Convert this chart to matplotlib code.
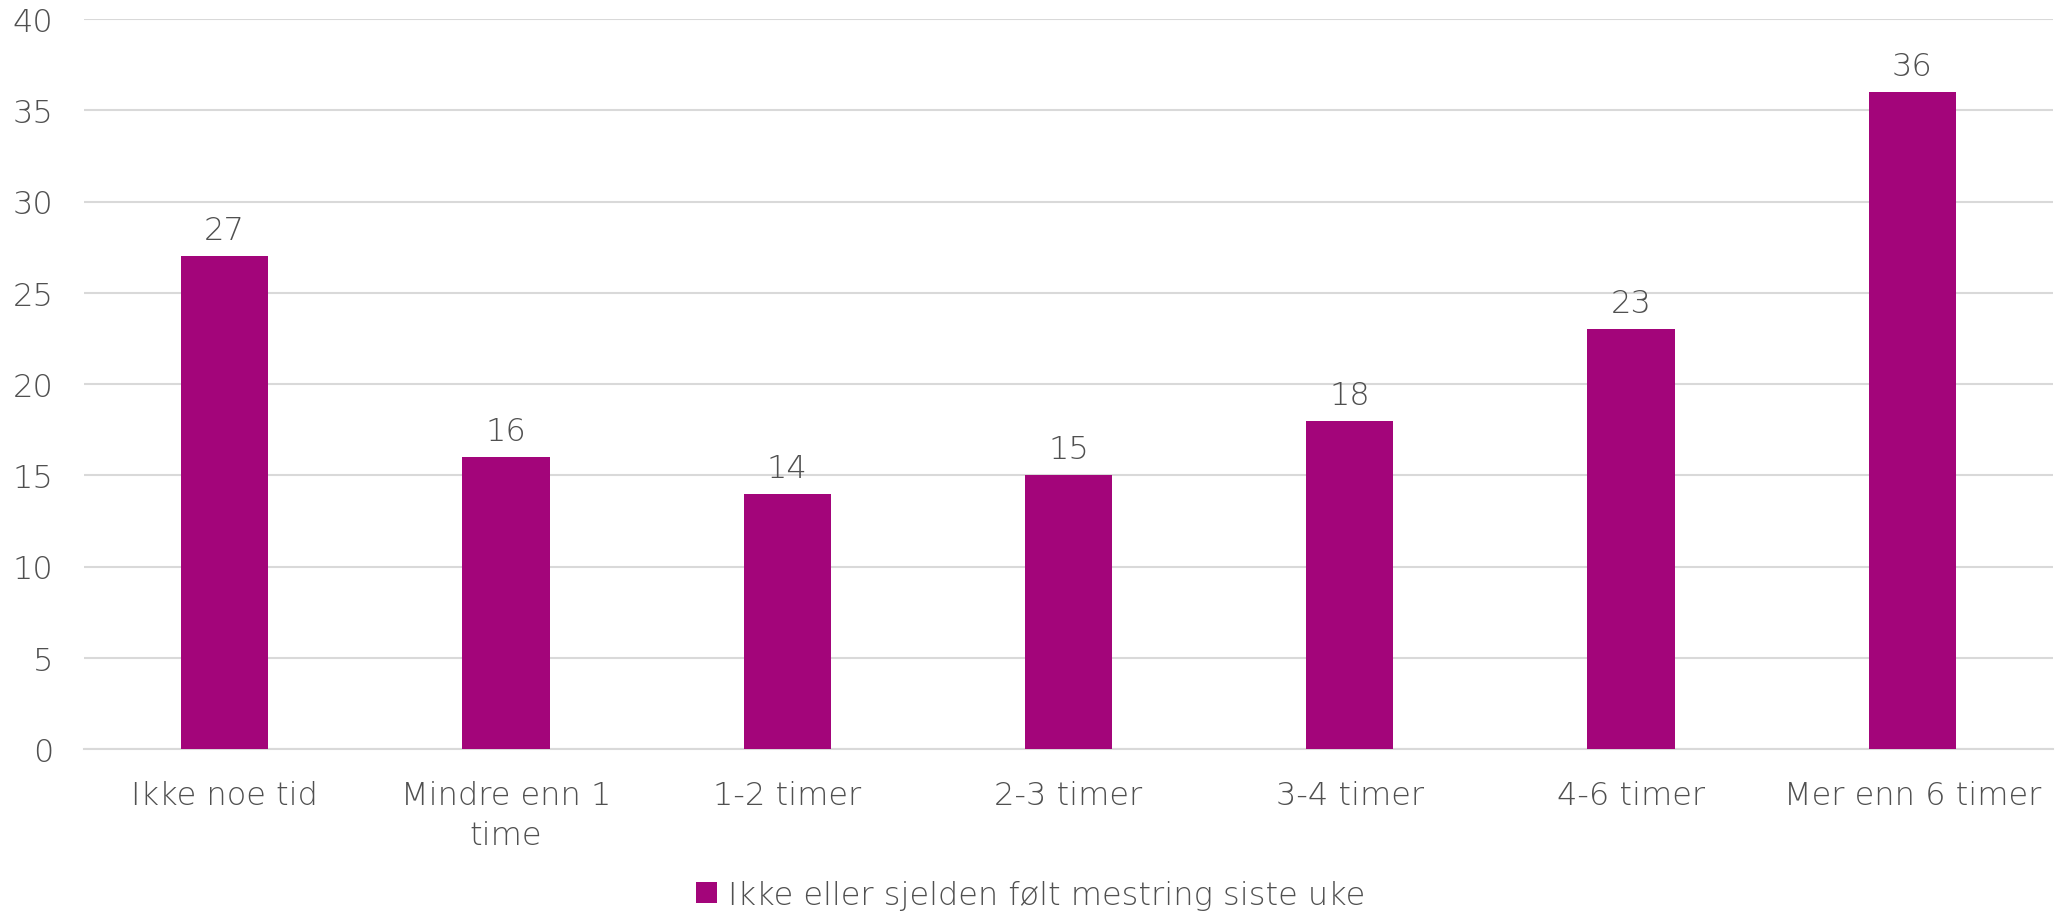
import matplotlib.pyplot as plt
from matplotlib.patches import Patch

categories = ["Ikke noe tid", "Mindre enn 1\ntime", "1-2 timer", "2-3 timer",
              "3-4 timer", "4-6 timer", "Mer enn 6 timer"]
values = [27, 16, 14, 15, 18, 23, 36]
series_name = "Ikke eller sjelden følt mestring siste uke"
yticks = [0, 5, 10, 15, 20, 25, 30, 35, 40]

BAR_COLOR = "#A3057A"
TEXT_COLOR = "#505050"
GRID_COLOR = "#D9D9D9"

plt.rcParams['font.family'] = ['DejaVu Sans']
FS = 23
W = "light"

fig = plt.figure(figsize=(20.61, 9.12), dpi=100)
ax = fig.add_axes([84 / 2061, 1 - 750 / 912, (2053 - 84) / 2061, (750 - 20) / 912])

x = list(range(len(categories)))
ax.bar(x, values, width=0.31, color=BAR_COLOR, zorder=3)
for xi, v in zip(x, values):
    ax.text(xi, v + 0.6, str(v), ha="center", va="bottom", fontsize=FS,
            color=TEXT_COLOR, fontweight=W)

ax.set_xlim(-0.5, len(categories) - 0.5)
ax.set_ylim(0, 40)
ax.set_yticks(yticks)
ax.set_yticklabels([str(t) for t in yticks], fontsize=FS, color=TEXT_COLOR,
                   fontweight=W)
ax.set_xticks(x)
ax.set_xticklabels(categories, fontsize=FS, color=TEXT_COLOR, fontweight=W,
                   linespacing=1.45)
ax.tick_params(axis="both", length=0)
ax.tick_params(axis="y", pad=22)
ax.tick_params(axis="x", pad=22)
ax.grid(axis="y", color=GRID_COLOR, linewidth=1.5, zorder=0)
for s in ["top", "right", "left"]:
    ax.spines[s].set_visible(False)
ax.spines["bottom"].set_color(GRID_COLOR)
ax.spines["bottom"].set_linewidth(1.5)

handle = Patch(facecolor=BAR_COLOR)
leg = fig.legend([handle], [series_name], loc="center", bbox_to_anchor=(0.5, 1 - 896 / 912),
                 frameon=False, handlelength=0.65, handleheight=0.65,
                 handletextpad=0.35, prop={"weight": W, "size": FS})
for t in leg.get_texts():
    t.set_color(TEXT_COLOR)

fig.savefig("out.png", dpi=100)
